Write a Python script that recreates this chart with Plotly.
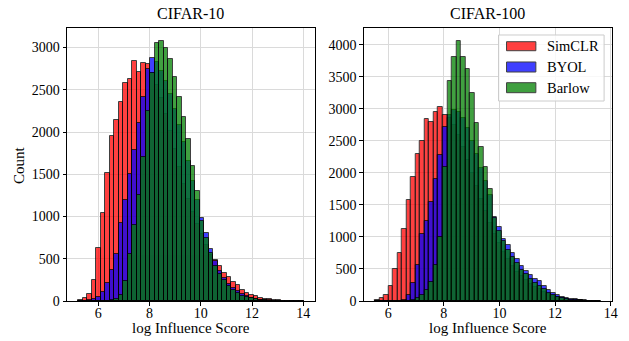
import numpy as np
import plotly.graph_objects as go

# ---------------- data ----------------
series_names = ["SimCLR", "BYOL", "Barlow"]
series_colors = ["#ff0000", "#0000ff", "#008000"]

# CIFAR-10: 50 common bins
c10_bin_start, c10_bin_end, n_bins = 5.215, 14.01, 50
c10_simclr = [12, 32, 80, 248, 623, 1037, 1510, 1953, 2148, 2357, 2584, 2633, 2840, 2715, 2815, 2800,
              2700, 2560, 2400, 2210, 2010, 1800, 1590, 1390, 1210, 1050, 910, 790, 660, 550, 480, 410,
              330, 280, 230, 190, 130, 95, 75, 55, 40, 28, 18, 10, 6, 4, 3, 2, 2, 1]
c10_byol = [0, 0, 8, 25, 50, 110, 215, 370, 560, 920, 1190, 1500, 1785, 2113, 2420, 2750, 2877, 2830,
            2720, 2600, 2450, 2270, 2080, 1880, 1660, 1420, 1200, 980, 800, 620, 470, 350, 270, 205,
            155, 115, 85, 60, 40, 26, 16, 10, 6, 4, 2, 1, 1, 0, 0, 0]
c10_barlow = [0, 0, 0, 0, 0, 2, 5, 10, 20, 70, 240, 560, 900, 1250, 1700, 2250, 2700, 3060, 3078, 2990,
              2860, 2650, 2420, 2180, 1920, 1600, 1300, 950, 740, 570, 420, 320, 245, 180, 130, 95, 65,
              45, 30, 20, 12, 8, 5, 3, 2, 1, 0, 0, 0, 0]

# CIFAR-100: 50 common bins
c100_bin_start, c100_bin_end = 5.525, 13.64
c100_simclr = [16, 47, 90, 228, 495, 753, 1127, 1575, 1943, 2300, 2494, 2840, 2800, 2956, 3030, 2900,
               2850, 2750, 2600, 2400, 2200, 2000, 1800, 1600, 1400, 1220, 1050, 900, 770, 650, 550,
               460, 390, 330, 270, 220, 180, 140, 110, 85, 62, 45, 32, 22, 15, 10, 6, 4, 2, 1]
c100_byol = [0, 0, 0, 0, 2, 5, 20, 98, 280, 560, 1044, 1250, 1553, 1906, 2280, 2722, 2900, 2980, 2950,
             2850, 2700, 2500, 2300, 2080, 1870, 1657, 1319, 1163, 971, 877, 748, 659, 540, 472, 400,
             350, 305, 228, 176, 124, 88, 62, 47, 31, 25, 16, 10, 6, 4, 2]
c100_barlow = [0, 0, 0, 0, 0, 0, 2, 5, 10, 40, 100, 170, 300, 560, 1000, 2100, 3430, 3810, 4060, 3810,
               3630, 3250, 2780, 2400, 2100, 1750, 1300, 1100, 930, 800, 680, 590, 480, 420, 350, 280,
               230, 180, 130, 95, 65, 45, 30, 20, 12, 8, 5, 3, 2, 1]

panel_titles = ["CIFAR-10", "CIFAR-100"]
x_tick_vals = [6, 8, 10, 12, 14]
x_label = "log Influence Score"
y_label = "Count"

FONT = "Liberation Serif"

panels = [
    (c10_bin_start, c10_bin_end, [c10_simclr, c10_byol, c10_barlow]),
    (c100_bin_start, c100_bin_end, [c100_simclr, c100_byol, c100_barlow]),
]

fig = go.Figure()
layout_axes = {}
domains = [[0.0, 0.4546], [0.5445, 1.0]]

for p, (b0, b1, counts) in enumerate(panels):
    edges = np.linspace(b0, b1, n_bins + 1)
    centers = (edges[:-1] + edges[1:]) / 2
    bw = edges[1] - edges[0]
    xa = "x" if p == 0 else "x2"
    ya = "y" if p == 0 else "y2"
    for name, col, cnt in zip(series_names, series_colors, counts):
        fig.add_trace(go.Bar(
            x=centers, y=cnt, width=bw, name=name, xaxis=xa, yaxis=ya,
            marker=dict(color=col, opacity=0.75, line=dict(color="black", width=1)),
            showlegend=False,
        ))
    span = b1 - b0
    ymax = max(max(c) for c in counts) * 1.05
    common = dict(showgrid=True, gridcolor="#dadada", gridwidth=1, showline=True, mirror=True,
                  linecolor="black", linewidth=1, ticks="outside", ticklen=3.5, tickcolor="black",
                  zeroline=False, tickfont=dict(family=FONT, size=14, color="black"))
    xkey = "xaxis" if p == 0 else "xaxis2"
    ykey = "yaxis" if p == 0 else "yaxis2"
    layout_axes[xkey] = dict(common, domain=domains[p], range=[b0 - 0.05 * span, b1 + 0.05 * span],
                             tickvals=x_tick_vals, anchor=ya, ticklabelstandoff=-4)
    layout_axes[ykey] = dict(common, domain=[0, 1], range=[0, ymax], dtick=500, tick0=0, anchor=xa)

fig.update_layout(
    width=629, height=341,
    margin=dict(l=67, r=11, t=28, b=40),
    paper_bgcolor="white", plot_bgcolor="white",
    barmode="overlay", bargap=0,
    showlegend=False,
    **layout_axes,
)

# titles and axis labels
anns = []
for p, t in enumerate(panel_titles):
    cx = (domains[p][0] + domains[p][1]) / 2
    anns.append(dict(text=t, x=cx, y=1.052, xref="paper", yref="paper", showarrow=False,
                     xanchor="center", yanchor="middle", font=dict(family=FONT, size=16, color="black")))
    anns.append(dict(text=x_label, x=cx, y=-0.1, xref="paper", yref="paper", showarrow=False,
                     xanchor="center", yanchor="middle", font=dict(family=FONT, size=15, color="black")))
anns.append(dict(text=y_label, x=-0.089, y=0.5, xref="paper", yref="paper", showarrow=False,
                 textangle=-90, xanchor="center", yanchor="middle",
                 font=dict(family=FONT, size=15, color="black")))

# manual legend (matplotlib-style wide patches) in the right panel
shapes = [dict(type="rect", xref="paper", yref="paper", x0=0.7918, x1=0.9855, y0=0.7326, y1=0.9744,
               line=dict(color="#cccccc", width=1), fillcolor="rgba(255,255,255,0.8)", layer="above")]
patch_rows = [(0.9168, 0.9498, 0.934), (0.8388, 0.8755, 0.857), (0.7630, 0.7996, 0.780)]
for (y0, y1, yc), name, col in zip(patch_rows, series_names, series_colors):
    shapes.append(dict(type="rect", xref="paper", yref="paper", x0=0.8065, x1=0.8603, y0=y0, y1=y1,
                       line=dict(color="black", width=1), fillcolor=col, opacity=0.75, layer="above"))
    anns.append(dict(text=name, x=0.8779, y=yc, xref="paper", yref="paper", showarrow=False,
                     xanchor="left", yanchor="middle", font=dict(family=FONT, size=14.5, color="black")))

fig.update_layout(annotations=anns, shapes=shapes)
fig.write_html("out.html")
